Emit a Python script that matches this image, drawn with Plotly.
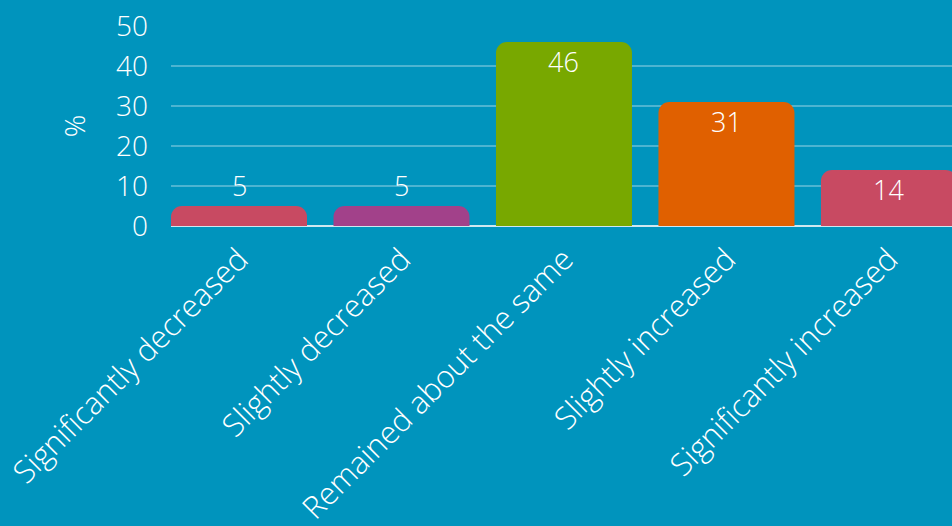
import plotly.graph_objects as go

# Survey responses: share of respondents per answer
categories = [
    "Significantly decreased",
    "Slightly decreased",
    "Remained about the same",
    "Slightly increased",
    "Significantly increased",
]
values = [5, 5, 46, 31, 14]
bar_colors = ["#C84A62", "#A2418A", "#78A800", "#E06000", "#C84A62"]
label_inside = [False, False, True, True, True]
y_ticks = [0, 10, 20, 30, 40, 50]

BG = "#0094BD"
FONT = "Open Sans"
LABEL_FONT = dict(family=FONT, size=27, color="white", weight=300)

fig = go.Figure(
    go.Bar(
        x=categories,
        y=values,
        marker=dict(color=bar_colors, line=dict(width=0)),
        cliponaxis=True,
        hoverinfo="skip",
    )
)

# Value labels: above short bars, tucked under the top edge of tall bars
for cat, val, inside in zip(categories, values, label_inside):
    fig.add_annotation(
        x=cat,
        y=val,
        text=str(val),
        showarrow=False,
        xanchor="center",
        yanchor="top" if inside else "bottom",
        yshift=1 if inside else 0,
        font=LABEL_FONT,
    )

fig.update_layout(
    width=952,
    height=526,
    paper_bgcolor=BG,
    plot_bgcolor=BG,
    margin=dict(l=171, r=0, t=26, b=300, autoexpand=False),
    bargap=0.163,
    barcornerradius=11,
    showlegend=False,
    font=dict(family=FONT, color="white", size=27, weight=300),
)

fig.update_xaxes(
    type="category",
    range=[-0.4185, 4.388],
    tickangle=-45,
    tickfont=dict(family=FONT, size=31, color="white", weight=300),
    showgrid=False,
    showline=False,
    ticks="",
    ticklabelstandoff=8,
    automargin=False,
)

fig.update_yaxes(
    range=[0, 50],
    tickvals=y_ticks,
    tickfont=dict(family=FONT, size=28, color="white", weight=300),
    showgrid=True,
    gridcolor="rgba(255,255,255,0.3)",
    gridwidth=2,
    zeroline=True,
    zerolinecolor="rgba(230,240,245,0.9)",
    zerolinewidth=2,
    showline=False,
    ticks="",
    ticklabelstandoff=22,
    title=dict(text="%", font=dict(family=FONT, size=28, color="white", weight=300), standoff=22),
    automargin=False,
)

fig.write_html("out.html")
